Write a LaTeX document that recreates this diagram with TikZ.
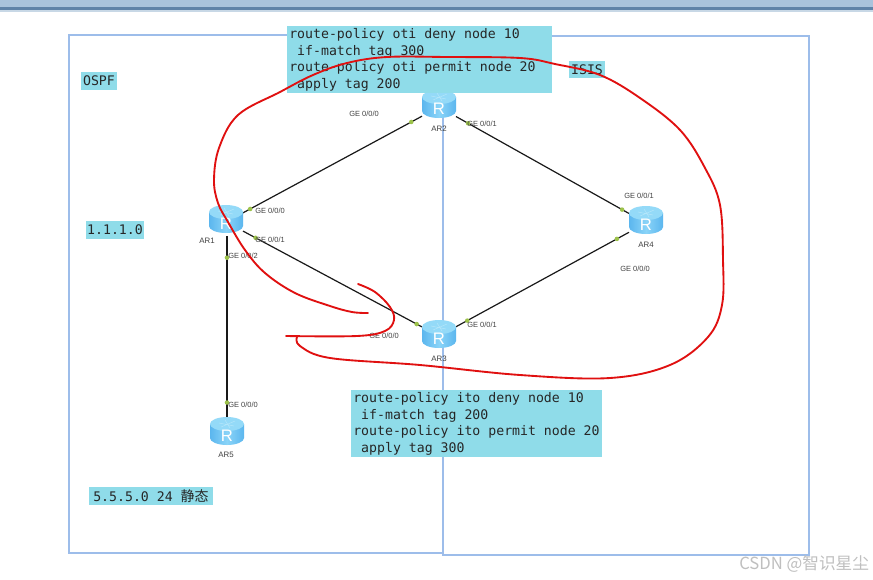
\documentclass[tikz,border=0pt]{standalone}
\usepackage{fontspec}
\setmainfont{Liberation Sans}
\newfontfamily\cjkfont{Noto Sans CJK SC}
\newfontfamily\monofont{DejaVu Sans Mono}
\definecolor{boxcyan}{HTML}{8FDCE9}
\definecolor{framec}{HTML}{9DBDEA}
\definecolor{dotc}{HTML}{9CC24A}
\definecolor{redink}{HTML}{E01010}
\definecolor{bandlight}{HTML}{A9C3DC}
\definecolor{banddark}{HTML}{5F83A8}
\definecolor{bandfade}{HTML}{C8D8E6}
\definecolor{routerside}{HTML}{5BB6EE}
\definecolor{routermid}{HTML}{8AD4F8}
\definecolor{routertop}{HTML}{94DAF8}
\newcommand{\monoskip}{\spaceskip=5.96pt\relax}
\tikzset{
  x=0.75pt,y=-0.75pt,
  areaframe/.style={draw=framec,line width=0.8pt},
  policy/.style={fill=boxcyan,anchor=north west,inner sep=0pt,text=black!85,font=\monofont\fontsize{9.9}{12.3}\selectfont,align=left},
  tagbox/.style={fill=boxcyan,inner sep=0pt,text=black!85,font=\monofont\fontsize{9.9}{12}\selectfont},
  routerbox/.style={minimum width=25.5pt,minimum height=21pt,inner sep=0pt,outer sep=0pt},
  link/.style={draw=black!90,line width=0.9pt},
  gdot/.style={circle,fill=dotc,inner sep=0pt,minimum size=3.4pt},
  portlab/.style={anchor=west,inner sep=0pt,text=black!75,font=\fontsize{5.6}{6}\selectfont},
  devlab/.style={inner sep=0pt,text=black!75,font=\fontsize{5.9}{6}\selectfont},
  pen/.style={draw=redink,line width=1.4pt,line cap=round,line join=round},
}
\newcommand{\routericon}[2]{%
  \begin{scope}[shift={(#1,#2)}]
    \path[left color=routerside,right color=routerside,middle color=routermid]
      (-17,-7) -- (-17,7) arc[start angle=180,end angle=360,x radius=12.75pt,y radius=5.25pt] -- (17,-7) -- cycle;
    \fill[routertop] (0,-7) ellipse[x radius=12.75pt,y radius=5.25pt];
    \draw[white!70!cyan,line width=0.4pt] (-8,-8) -- (7,-5) (-6,-4) -- (8,-10) (-2,-11) -- (3,-3);
    \node[inner sep=0pt,text=white,font=\fontsize{12.5}{12}\selectfont] at (0,5) {R};
  \end{scope}}
\begin{document}
\begin{tikzpicture}
\useasboundingbox (0,0) rectangle (873,579);
% window band
\fill[white] (0,0) rectangle (873,579);
\fill[bandlight] (0,0) rectangle (873,7);
\fill[banddark] (0,7) rectangle (873,10);
\fill[bandfade] (0,10) rectangle (873,12);
% area frames
\draw[areaframe] (69,35) rectangle (443,553);
\draw[areaframe] (443,36) rectangle (809,555);
% routers and links
\node[routerbox] (ar1) at (226,222) {};
\node[routerbox] (ar2) at (439,107) {};
\node[routerbox] (ar3) at (439,336) {};
\node[routerbox] (ar4) at (646,223) {};
\node[routerbox] (ar5) at (227,431) {};
\draw[link] (ar1) -- (ar2) node[gdot,pos=0.04] (d1) {} node[gdot,pos=0.94] (d2) {};
\draw[link] (ar2) -- (ar4) node[gdot,pos=0.07] (d3) {} node[gdot,pos=0.96] (d4) {};
\draw[link] (ar1) -- (ar3) node[gdot,pos=0.07] (d5) {} node[gdot,pos=0.97] (d6) {};
\draw[link] (ar3) -- (ar4) node[gdot,pos=0.065] (d7) {} node[gdot,pos=0.93] (d8) {};
\draw[link] (ar1.south -| ar5) -- (ar5) node[gdot,pos=0.12] (d9) {} node[gdot,pos=0.92] (d10) {};
\routericon{226}{219}
\routericon{439}{104}
\routericon{439}{334}
\routericon{646}{220}
\routericon{227}{431}
% policy boxes
\node[policy,text width=198.75pt,minimum height=50.25pt] (p1) at (287,26) {\monoskip\hspace*{1.5pt}route-policy oti deny node 10\\\hspace*{1.5pt} if-match tag 300\\\hspace*{1.5pt}route-policy oti permit node 20\\\hspace*{1.5pt} apply tag 200};
\node[policy,text width=188.25pt,minimum height=50.25pt] (p2) at (351,390) {\monoskip\hspace*{1.5pt}route-policy ito deny node 10\\\hspace*{1.5pt} if-match tag 200\\\hspace*{1.5pt}route-policy ito permit node 20\\\hspace*{1.5pt} apply tag 300};
\node[tagbox,minimum width=27pt,minimum height=13.5pt] (ospf) at (99,81) {OSPF};
\node[tagbox,minimum width=27pt,minimum height=13pt] (isis) at (587,69.5) {ISIS};
\node[tagbox,minimum width=43.5pt,minimum height=13.5pt] (net1) at (115,230) {1.1.1.0};
\node[tagbox,minimum width=93pt,minimum height=13.5pt] (net5) at (151,496) {5.5.5.0 24 {\cjkfont\fontsize{10.5}{12}\selectfont 静态}};
% labels
\node[devlab] (l1) at (207,241) {AR1};
\node[devlab] (l2) at (439,129) {AR2};
\node[devlab] (l3) at (439,359) {AR3};
\node[devlab] (l4) at (646,245) {AR4};
\node[devlab] (l5) at (226,455) {AR5};
\node[portlab] (g1) at (255,211) {GE 0/0/0};
\node[portlab] (g2) at (255,240) {GE 0/0/1};
\node[portlab] (g3) at (228,256) {GE 0/0/2};
\node[portlab] (g4) at (349,114) {GE 0/0/0};
\node[portlab] (g5) at (467,124) {GE 0/0/1};
\node[portlab] (g6) at (624,196) {GE 0/0/1};
\node[portlab] (g7) at (620,269) {GE 0/0/0};
\node[portlab] (g8) at (369,336) {GE 0/0/0};
\node[portlab] (g9) at (467,325) {GE 0/0/1};
\node[portlab] (g10) at (228,405) {GE 0/0/0};
% red pen strokes
\draw[pen] plot[smooth,tension=0.6] coordinates {(368,313) (352,312) (330,306) (295,293) (265,273) (245,250) (228,222) (218,203) (214,180) (219,148) (238,115) (280,92) (313,75) (347,63) (387,57) (447,57) (520,58) (555,64) (600,75) (640,98) (680,130) (705,168) (720,205) (723,260) (722,305) (708,337) (670,365) (610,378) (520,375) (420,365) (330,358) (300,346) (297,337)};
\draw[pen] plot[smooth,tension=0.6] coordinates {(286,336) (357,336) (385,331) (394,320) (390,307) (375,292) (358,284)};
% watermark
\node[inner sep=0pt,anchor=west,text=black!25,font=\cjkfont\fontsize{12.5}{13}\selectfont] (wm) at (739,564) {CSDN @智识星尘};
\end{tikzpicture}
\end{document}
